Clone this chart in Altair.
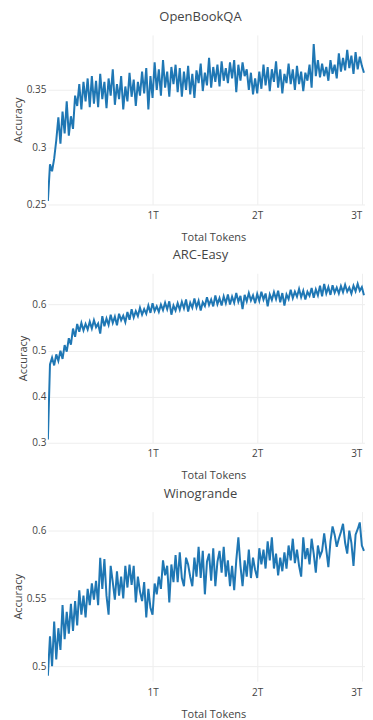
import altair as alt
import pandas as pd

STEP = 0.02  # checkpoint spacing in trillions of tokens

openbookqa = [
    0.253, 0.285, 0.279, 0.290, 0.306, 0.326, 0.303, 0.331, 0.312, 0.340,
    0.310, 0.327, 0.316, 0.345, 0.336, 0.355, 0.333, 0.357, 0.340, 0.360,
    0.335,
    0.362, 0.338, 0.358, 0.335, 0.364, 0.342, 0.357, 0.334, 0.360, 0.345,
    0.368, 0.337, 0.355, 0.342, 0.362, 0.333, 0.353, 0.340, 0.365, 0.344,
    0.359, 0.336, 0.357, 0.345, 0.366, 0.347, 0.369, 0.333, 0.362, 0.343,
    0.374, 0.350, 0.368, 0.345, 0.376, 0.352, 0.366, 0.344, 0.370, 0.355,
    0.372, 0.348, 0.369, 0.344, 0.366, 0.350, 0.371, 0.346, 0.364, 0.343,
    0.367, 0.356, 0.373, 0.349, 0.365, 0.354, 0.378, 0.352, 0.370, 0.357,
    0.372, 0.353, 0.375, 0.358, 0.369, 0.356, 0.374, 0.360, 0.376, 0.348,
    0.372, 0.358, 0.374, 0.362, 0.368, 0.350, 0.365, 0.346, 0.360, 0.347,
    0.366, 0.351, 0.372, 0.354, 0.370, 0.349, 0.368, 0.357, 0.375, 0.352,
    0.368, 0.347, 0.364, 0.356, 0.373, 0.355, 0.368, 0.350, 0.371, 0.355,
    0.366, 0.349, 0.365, 0.358, 0.372, 0.352, 0.390, 0.362, 0.376, 0.361,
    0.373, 0.362, 0.370, 0.358, 0.376, 0.364, 0.372, 0.360, 0.382, 0.366,
    0.378, 0.367, 0.385, 0.369, 0.380, 0.364, 0.383, 0.368, 0.379, 0.371,
    0.365,
]

arc_easy = [
    0.307, 0.470, 0.485, 0.468, 0.492, 0.478, 0.500, 0.482, 0.512, 0.498,
    0.527, 0.513, 0.548, 0.530, 0.558, 0.541, 0.560, 0.544, 0.558, 0.546,
    0.563, 0.548, 0.566, 0.551, 0.559, 0.537, 0.575, 0.553, 0.570, 0.556,
    0.578, 0.560, 0.574, 0.555, 0.580, 0.566, 0.576, 0.562, 0.584, 0.567,
    0.590, 0.572, 0.586, 0.575, 0.593, 0.578, 0.590, 0.580, 0.598, 0.582,
    0.603, 0.586, 0.596, 0.584, 0.600, 0.588, 0.604, 0.590, 0.607, 0.578,
    0.598, 0.587, 0.603, 0.589, 0.606, 0.592, 0.611, 0.585, 0.604, 0.593,
    0.613, 0.594, 0.608, 0.587, 0.605, 0.597, 0.616, 0.599, 0.611, 0.596,
    0.620, 0.601, 0.614, 0.598, 0.618, 0.603, 0.622, 0.600, 0.617, 0.604,
    0.625, 0.606, 0.619, 0.590, 0.621, 0.607, 0.625, 0.609, 0.620, 0.603,
    0.623, 0.608, 0.628, 0.611, 0.624, 0.596, 0.622, 0.610, 0.627, 0.612,
    0.630, 0.605, 0.625, 0.598, 0.622, 0.612, 0.632, 0.614, 0.628, 0.617,
    0.634, 0.616, 0.630, 0.611, 0.628, 0.619, 0.636, 0.615, 0.633, 0.620,
    0.641, 0.618, 0.645, 0.624, 0.638, 0.621, 0.642, 0.626, 0.637, 0.624,
    0.640, 0.627, 0.643, 0.628, 0.637, 0.624, 0.641, 0.629, 0.645, 0.630,
    0.638, 0.620,
]

winogrande = [
    0.493, 0.522, 0.500, 0.533, 0.505, 0.528, 0.512, 0.545, 0.520, 0.540,
    0.524, 0.546, 0.526, 0.548, 0.530, 0.556, 0.538, 0.552, 0.536, 0.557,
    0.545, 0.561, 0.549, 0.563, 0.545, 0.580, 0.557, 0.579, 0.552, 0.538,
    0.574, 0.562, 0.549, 0.570, 0.552, 0.566, 0.550, 0.574, 0.558, 0.575,
    0.560, 0.574, 0.547, 0.566, 0.555, 0.548, 0.562, 0.536, 0.557, 0.543,
    0.538, 0.561, 0.553, 0.566, 0.557, 0.578, 0.567, 0.574, 0.547, 0.575,
    0.562, 0.582, 0.562, 0.584, 0.565, 0.559, 0.580,
    0.575, 0.566, 0.559, 0.580, 0.566, 0.588, 0.565, 0.585, 0.553, 0.577,
    0.583, 0.563, 0.587, 0.559, 0.577, 0.585, 0.569, 0.588, 0.566, 0.578,
    0.559, 0.574, 0.556, 0.578, 0.595, 0.574, 0.559, 0.578, 0.566, 0.586,
    0.565, 0.580, 0.571, 0.565, 0.587, 0.575, 0.586, 0.572, 0.592, 0.578,
    0.595, 0.572, 0.583, 0.567, 0.580, 0.570, 0.584, 0.572, 0.589, 0.578,
    0.594, 0.576, 0.586, 0.574, 0.566, 0.595, 0.579, 0.587, 0.575, 0.594,
    0.583, 0.569, 0.589, 0.581, 0.585, 0.598, 0.586, 0.573, 0.592, 0.603,
    0.597, 0.588, 0.594, 0.599, 0.605, 0.591, 0.583, 0.600, 0.591, 0.574,
    0.597, 0.601, 0.606, 0.589, 0.585,
]

x_ticks = [1, 2, 3]
panels = [
    ("OpenBookQA", openbookqa, [0.25, 0.398], [0.25, 0.3, 0.35]),
    ("ARC-Easy", arc_easy, [0.3, 0.668], [0.3, 0.4, 0.5, 0.6]),
    ("Winogrande", winogrande, [0.489, 0.614], [0.5, 0.55, 0.6]),
]

TEXT = "#444"
GRID = "#eeeeee"
FONT = "Open Sans"
PLOT_W = 318


def make_panel(name, values, ydom, yticks):
    df = pd.DataFrame({
        "tokens": [i * STEP for i in range(len(values))],
        "acc": values,
    })
    return (
        alt.Chart(df, title=alt.TitleParams(
            name, fontSize=13, font=FONT, color=TEXT, fontWeight="normal",
            anchor="middle", dx=-6, offset=11))
        .mark_line(color="#1f77b4", strokeWidth=2, clip=True)
        .encode(
            x=alt.X("tokens:Q",
                    scale=alt.Scale(domain=[0, 3.03], nice=False, zero=False),
                    axis=alt.Axis(values=x_ticks, labelExpr="datum.value + 'T'",
                                  labelFlush=6,
                                  title="Total Tokens", grid=True, gridColor=GRID,
                                  domain=False, ticks=False, labelPadding=6,
                                  titlePadding=11, titleX=166)),
            y=alt.Y("acc:Q",
                    scale=alt.Scale(domain=ydom, nice=False, zero=False),
                    axis=alt.Axis(values=yticks, labelExpr="datum.value + ''",
                                  title="Accuracy", grid=True, gridColor=GRID,
                                  domain=False, ticks=False, labelPadding=2,
                                  titlePadding=3)),
        )
        .properties(width=PLOT_W, height=170)
    )


chart = (
    alt.vconcat(*[make_panel(*p) for p in panels], spacing=7)
    .properties(padding={"left": 4, "top": 2, "right": 0, "bottom": 0})
    .configure_view(stroke=None)
    .configure_axis(labelFont=FONT, labelFontSize=10, labelColor=TEXT,
                    titleFont=FONT, titleFontSize=11, titleColor=TEXT,
                    titleFontWeight="normal", gridWidth=1)
)

chart.save("out.html", embed_options={"renderer": "svg", "actions": False})
